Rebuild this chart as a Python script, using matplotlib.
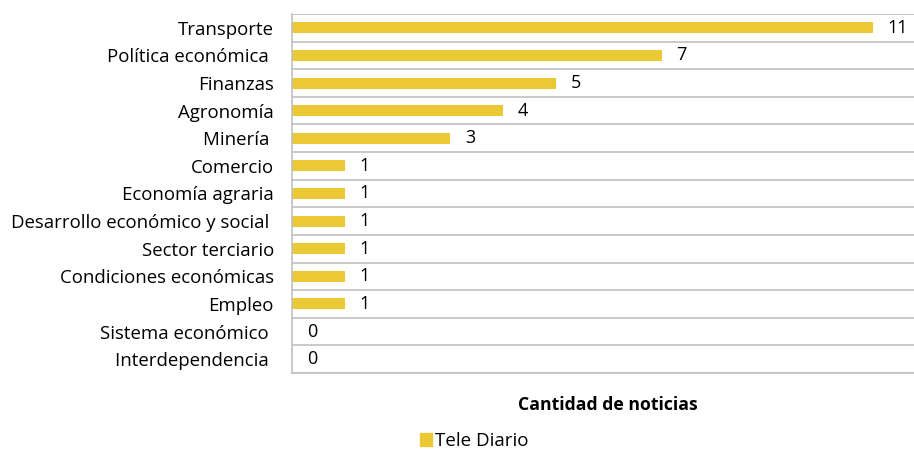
import numpy as np
import matplotlib.pyplot as plt
from matplotlib.patches import Patch

plt.rcParams['font.family'] = ['Open Sans', 'DejaVu Sans']

# Datos
temas = ["Transporte", "Política económica ", "Finanzas", "Agronomía", "Minería ",
         "Comercio", "Economía agraria", "Desarrollo económico y social ",
         "Sector terciario", "Condiciones económicas", "Empleo",
         "Sistema económico ", "Interdependencia "]
noticias = [11, 7, 5, 4, 3, 1, 1, 1, 1, 1, 1, 0, 0]
serie = "Tele Diario"

color_barra = "#EBC934"
color_linea = "#C0C0C0"

fig = plt.figure(figsize=(9.14, 4.51), dpi=100)
ax = fig.add_axes([292 / 914, 1 - 373 / 451, 622 / 914, 359 / 451])

y = np.arange(len(temas))
ax.barh(y, noticias, height=0.4, color=color_barra)

for yi, v in zip(y, noticias):
    ax.text(v + 0.28, yi, str(v), va="center", ha="left", fontsize=13)

# lineas de separacion entre categorias
for b in np.arange(-0.5, len(temas), 1.0):
    ax.axhline(b, color=color_linea, lw=1.2, zorder=0)

ax.set_xlim(0, 11.78)
ax.set_ylim(len(temas) - 0.5, -0.5)
ax.set_yticks(y)
ax.set_yticklabels(temas, fontsize=13.4)
ax.tick_params(axis="y", length=0, pad=13)
ax.set_xticks([])

for s in ["top", "right"]:
    ax.spines[s].set_visible(False)
for s in ["left", "bottom"]:
    ax.spines[s].set_color(color_linea)
    ax.spines[s].set_linewidth(1.2)

ax.set_xlabel("Cantidad de noticias", fontsize=12.7, fontweight="bold")
ax.xaxis.set_label_coords(0.508, -0.065)

fig.legend(handles=[Patch(color=color_barra, label=serie)], loc="center",
           bbox_to_anchor=(474 / 914, 1 - 441 / 451), frameon=False, fontsize=13.5,
           handlelength=0.65, handleheight=0.65, handletextpad=0.15)

fig.savefig("out.png", dpi=100)
